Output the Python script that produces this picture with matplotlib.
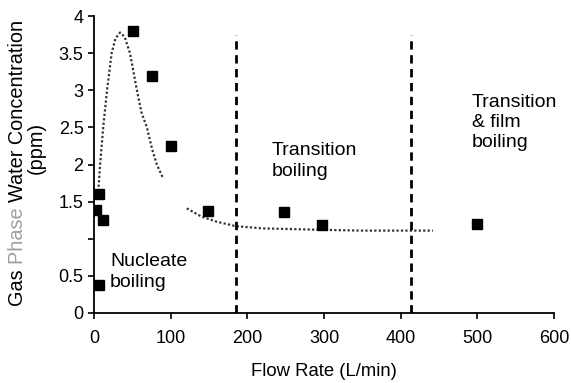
import matplotlib
matplotlib.use("Agg")
import matplotlib.pyplot as plt

matplotlib.rcParams["font.family"] = ["Liberation Sans", "DejaVu Sans"]

# Measured points (squares)
flow = [2, 7, 12, 6, 51, 76, 100, 149, 248, 298, 499]
conc = [1.39, 1.6, 1.25, 0.38, 3.8, 3.19, 2.25, 1.37, 1.36, 1.19, 1.2]

# Dotted model curve, nucleate part
curve1_x = [6, 8, 12, 17, 23, 28, 34, 40, 47, 56, 62, 69, 76, 82, 90]
curve1_y = [1.7, 2.0, 2.5, 3.0, 3.5, 3.7, 3.78, 3.72, 3.5, 3.0, 2.7, 2.5, 2.2, 2.0, 1.82]

# Dotted model curve, transition part
curve2_x = [121, 140, 160, 185, 220, 260, 300, 350, 400, 442]
curve2_y = [1.41, 1.3, 1.23, 1.17, 1.14, 1.13, 1.12, 1.11, 1.11, 1.11]

# Regime boundaries
bounds = [185, 413]
bound_top = 3.75

yticks = [0, 0.5, 1, 1.5, 2, 2.5, 3, 3.5, 4]
ytick_labels = ["0", "0.5", "", "1.5", "2", "2.5", "3", "3.5", "4"]
xticks = [0, 100, 200, 300, 400, 500, 600]

ylabel_parts = ["Gas ", "Phase ", "Water Concentration"]
ylabel_colors = ["black", "#a0a0a0", "black"]

fig = plt.figure(figsize=(5.71, 3.83), dpi=100)
ax = fig.add_axes([0.1646, 0.1828, 0.8056, 0.775])

ax.plot(curve1_x, curve1_y, color="#333333", lw=1.6, linestyle=(0, (1, 1)))
ax.plot(curve2_x, curve2_y, color="#333333", lw=1.6, linestyle=(0, (1, 1)))
ax.vlines(bounds, 0, bound_top, colors="black", lw=2, linestyles=[(0, (3, 2))])
ax.plot(flow, conc, "s", color="black", markersize=7.5, linestyle="none")

ax.text(21, 0.55, "Nucleate\nboiling", fontsize=14, ha="left", va="center",
        linespacing=1.3)
ax.text(232, 2.05, "Transition\nboiling", fontsize=14, ha="left", va="center",
        linespacing=1.35)
ax.text(493, 2.57, "Transition\n& film\nboiling", fontsize=14, ha="left", va="center",
        linespacing=1.25)

ax.set_xlim(0, 600)
ax.set_ylim(0, 4)
ax.set_xticks(xticks)
ax.set_yticks(yticks)
ax.set_yticklabels(ytick_labels)
ax.tick_params(direction="out", length=4, width=1.2, labelsize=13)
ax.tick_params(axis="x", pad=8)
ax.spines["top"].set_visible(False)
ax.spines["right"].set_visible(False)
ax.spines["left"].set_linewidth(1.3)
ax.spines["bottom"].set_linewidth(1.3)

ax.set_xlabel("Flow Rate (L/min)", fontsize=13.3, labelpad=12)

# y label with grey "Phase": lay the pieces end to end
renderer = fig.canvas.get_renderer()
fs = 14.3
probe = fig.text(0, 0, "".join(ylabel_parts), fontsize=fs)
total = probe.get_window_extent(renderer).width
probe.remove()
fig_h = fig.bbox.height
y_pix = 383 - 163 - total / 2
for part, col in zip(ylabel_parts, ylabel_colors):
    t = fig.text(0.030, y_pix / fig_h, part, rotation=90, fontsize=fs,
                 ha="center", va="bottom", color=col)
    p = fig.text(0, 0, part.replace(" ", "\u00a0"), fontsize=fs)
    y_pix += p.get_window_extent(renderer).width
    p.remove()
fig.text(0.063, 0.613, "(ppm)", rotation=90, fontsize=fs, ha="center", va="center")

fig.savefig("out.png", dpi=100)
